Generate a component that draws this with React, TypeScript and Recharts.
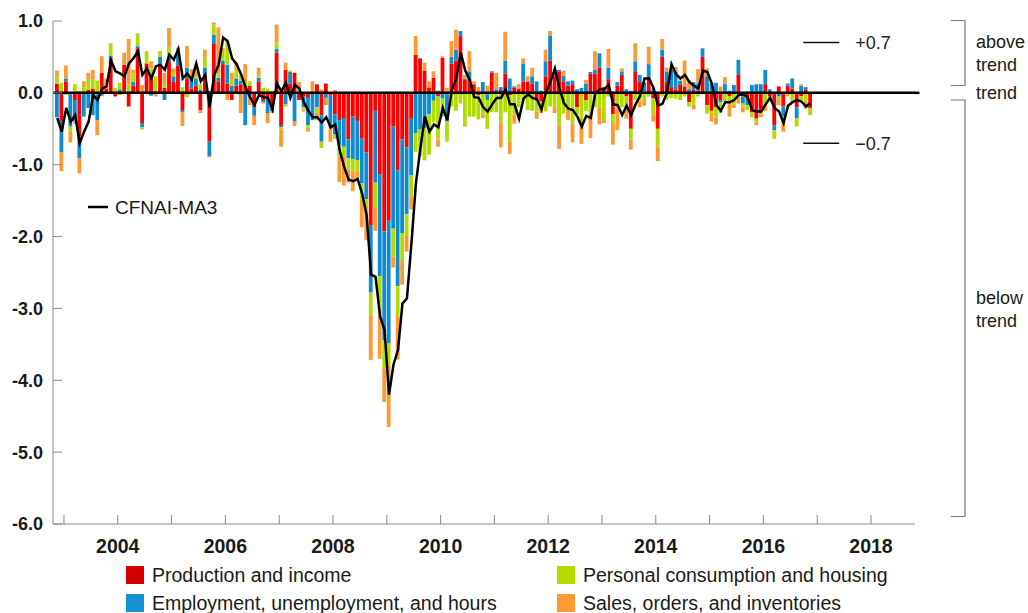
import React from 'react';
import { ComposedChart, Bar, Line, XAxis, YAxis, ReferenceLine } from 'recharts';

const FONT = '"Liberation Sans", Arial, Helvetica, sans-serif';

// one bar per month, Nov 2002 .. Nov 2016
const FIRST_YEAR = 2002;
const FIRST_MONTH = 11;

const production = [
  0.13, -0.39, 0.16, -0.02, -0.10, -0.61, 0.00, 0.04, 0.06, -0.02, 0.28, 0.06,
  0.48, -0.05, 0.00, 0.39, -0.19, 0.10, 0.62, -0.42, 0.41, 0.24, 0.00, 0.38,
  0.07, 0.44, 0.15, 0.38, -0.24, 0.20, 0.06, 0.10, -0.24, 0.25, -0.68, 0.68,
  0.16, 0.40, 0.13, -0.10, 0.10, 0.12, 0.10, 0.10, -0.20, 0.16, -0.10, -0.08,
  -0.22, 0.56, -0.46, 0.32, 0.13, 0.28, -0.10, -0.05, -0.07, 0.00, 0.12, -0.31,
  0.13, -0.04, -0.30, -0.38, -0.35, -0.65, -0.33, -0.39, -0.63, -0.83, -1.85, -0.25,
  -1.13, -1.93, -1.78, -0.47, -1.08, -0.65, -0.76, -0.35, 0.53, 0.48, 0.31, 0.07,
  0.21, -0.05, 0.49, -0.02, 0.41, 0.45, 0.79, 0.18, 0.20, 0.12, -0.03, 0.00,
  -0.02, 0.28, 0.00, 0.04, 0.27, -0.03, 0.07, 0.06, 0.16, 0.16, 0.13, -0.10,
  -0.12, 0.23, 0.45, 0.23, 0.30, 0.16, 0.10, 0.12, -0.20, 0.00, -0.10, 0.27,
  0.27, 0.35, 0.08, 0.19, -0.30, 0.10, 0.25, -0.05, -0.50, 0.30, 0.15, 0.02,
  0.20, -0.08, -0.50, 0.50, 0.15, 0.08, 0.05, 0.12, 0.09, -0.13, 0.05, 0.03,
  0.50, -0.17, -0.25, -0.20, -0.10, -0.02, -0.05, 0.01, 0.25, -0.05, -0.10, -0.27,
  -0.36, -0.25, 0.12, -0.05, -0.45, 0.09, -0.19, 0.10, 0.06, -0.20, -0.05, 0.05,
  -0.21,
];

const employment = [
  -0.34, -0.44, 0.04, -0.45, -0.30, -0.30, -0.33, -0.21, -0.31, -0.36, -0.04, 0.00,
  0.04, 0.00, 0.05, 0.00, 0.00, 0.05, 0.03, -0.06, 0.00, -0.04, 0.03, 0.12,
  -0.10, 0.05, 0.08, 0.15, -0.03, 0.15, 0.12, 0.10, 0.04, 0.10, -0.20, 0.13,
  0.05, 0.05, 0.26, 0.10, 0.10, 0.05, -0.45, -0.05, -0.12, 0.05, -0.03, -0.20,
  -0.04, 0.05, -0.02, -0.16, 0.16, -0.40, 0.02, -0.15, -0.38, -0.38, -0.20, -0.37,
  -0.07, -0.42, -0.28, -0.35, -0.40, -0.26, -0.59, -0.55, -0.63, -0.65, -0.93, -1.00,
  -1.42, -1.51, -1.71, -1.42, -1.61, -1.30, -0.93, -0.80, -0.56, -0.51, -0.49, -0.30,
  -0.11, 0.03, -0.08, -0.38, 0.09, 0.15, 0.07, 0.02, 0.10, 0.00, 0.00, 0.15,
  -0.08, 0.02, 0.05, 0.04, 0.18, 0.20, 0.02, 0.00, 0.25, 0.00, 0.10, 0.16,
  0.03, 0.21, 0.35, 0.05, 0.02, 0.08, 0.06, 0.05, 0.05, 0.07, 0.13, 0.02,
  0.05, 0.20, 0.00, 0.16, 0.02, 0.05, 0.05, 0.05, 0.03, 0.14, 0.10, 0.12,
  0.20, 0.06, 0.00, 0.10, 0.15, 0.24, 0.25, 0.05, 0.00, 0.05, 0.10, 0.10,
  0.12, 0.23, 0.14, 0.14, -0.03, 0.13, 0.03, 0.10, 0.21, -0.10, -0.07, 0.11,
  0.12, 0.12, 0.20, 0.05, -0.07, -0.05, -0.14, 0.03, 0.14, -0.15, 0.10, 0.03,
  0.00,
];

const consumption = [
  0.08, 0.14, -0.03, -0.07, 0.12, 0.03, 0.08, 0.14, 0.13, 0.17, 0.00, 0.00,
  0.15, 0.07, 0.09, 0.00, 0.12, 0.12, 0.18, -0.03, 0.17, 0.10, 0.20, 0.08,
  0.05, 0.15, 0.06, 0.08, 0.08, -0.06, 0.05, 0.03, 0.08, 0.15, 0.03, 0.14,
  0.05, 0.12, 0.35, 0.08, 0.12, 0.08, 0.05, 0.06, 0.00, 0.04, 0.07, 0.06,
  0.03, 0.09, -0.03, -0.03, 0.02, 0.00, 0.02, -0.03, -0.03, 0.00, -0.08, -0.09,
  0.00, 0.00, -0.06, -0.16, -0.14, -0.16, -0.18, -0.14, -0.23, -0.16, -0.31, -0.35,
  -0.45, -0.39, -0.30, -0.39, -0.42, -0.39, -0.30, -0.30, -0.26, -0.37, -0.45, -0.56,
  -0.29, -0.60, -0.25, -0.28, -0.19, -0.25, -0.15, -0.47, -0.33, -0.33, -0.34, -0.30,
  -0.40, -0.27, -0.27, -0.42, -0.27, -0.65, -0.30, -0.20, -0.11, -0.24, -0.25, -0.16,
  -0.08, -0.26, -0.19, -0.20, -0.45, -0.29, -0.24, -0.43, -0.08, -0.38, -0.15, -0.30,
  -0.20, -0.20, -0.38, -0.05, -0.12, -0.22, -0.20, -0.15, -0.15, -0.10, -0.12, -0.10,
  -0.05, -0.22, -0.25, -0.05, -0.10, -0.07, -0.08, -0.10, -0.05, -0.06, -0.16, -0.05,
  -0.02, -0.12, -0.03, -0.15, -0.15, -0.10, -0.08, -0.17, -0.07, -0.04, -0.07, -0.07,
  -0.06, -0.03, -0.16, -0.04, -0.12, -0.04, -0.01, -0.03, -0.11, -0.12, -0.05, -0.12,
  -0.10,
];

const sales = [
  0.10, -0.26, 0.18, -0.15, -0.03, -0.21, 0.08, 0.10, 0.13, -0.21, 0.23, 0.14,
  0.02, 0.00, -0.03, 0.17, 0.63, 0.05, 0.00, 0.11, 0.00, 0.10, -0.05, 0.00,
  0.16, 0.26, 0.05, 0.02, -0.19, 0.30, 0.10, 0.08, -0.04, 0.10, -0.02, 0.03,
  0.65, 0.05, -0.10, 0.10, 0.10, -0.28, 0.25, -0.12, -0.13, 0.10, -0.02, -0.14,
  -0.02, 0.25, -0.24, 0.10, 0.00, -0.06, 0.11, -0.03, -0.06, 0.16, -0.10, 0.05,
  -0.10, -0.22, 0.04, -0.35, -0.40, -0.18, -0.27, -0.11, -0.38, -0.41, -0.63, -0.32,
  -0.70, -0.47, -0.86, -0.15, -0.60, -0.33, -0.22, -0.17, 0.26, 0.00, 0.11, 0.09,
  0.09, -0.10, 0.02, 0.07, 0.22, 0.28, 0.00, 0.05, 0.28, 0.04, 0.08, -0.05,
  0.10, 0.00, 0.23, -0.34, 0.40, -0.17, -0.13, 0.06, 0.07, 0.07, 0.12, -0.10,
  -0.08, 0.16, 0.06, -0.08, -0.33, 0.07, -0.14, -0.26, -0.02, -0.33, 0.05, -0.33,
  0.26, -0.24, -0.04, 0.26, -0.30, -0.30, 0.04, -0.16, -0.14, 0.25, -0.08, -0.08,
  0.24, -0.10, -0.20, 0.15, 0.05, 0.00, 0.06, 0.00, 0.36, 0.12, -0.07, 0.20,
  0.00, 0.11, -0.12, -0.09, 0.09, 0.09, -0.20, -0.04, -0.08, -0.08, 0.02, 0.00,
  -0.03, -0.06, -0.09, -0.02, 0.00, -0.08, -0.20, -0.02, -0.02, 0.02, 0.02, -0.10,
  0.01,
];

const cfnaiMa3 = [
  -0.35, -0.54, -0.21, -0.40, -0.31, -0.70, -0.54, -0.40, -0.03, -0.10, 0.06, 0.09,
  0.45, 0.30, 0.27, 0.23, 0.41, 0.48, 0.58, 0.25, 0.34, 0.20, 0.37, 0.39,
  0.32, 0.53, 0.46, 0.61, 0.20, 0.27, 0.18, 0.41, 0.16, 0.25, -0.20, 0.25,
  0.39, 0.77, 0.72, 0.48, 0.40, 0.26, 0.08, -0.06, -0.17, -0.03, -0.06, -0.07,
  -0.23, 0.13, 0.02, 0.14, -0.07, 0.11, 0.06, -0.13, -0.25, -0.34, -0.34, -0.41,
  -0.34, -0.48, -0.44, -0.80, -1.03, -1.21, -1.23, -1.20, -1.40, -1.70, -2.53, -2.56,
  -3.11, -3.30, -4.20, -3.78, -3.58, -2.93, -2.86, -2.09, -1.26, -0.77, -0.33, -0.54,
  -0.44, -0.48, -0.21, -0.38, 0.04, 0.20, 0.56, 0.31, 0.18, -0.06, -0.07, -0.20,
  -0.26, -0.16, -0.07, -0.07, 0.05, -0.16, -0.16, -0.36, -0.08, -0.02, -0.07, -0.09,
  -0.23, 0.01, 0.15, 0.34, 0.07, -0.14, -0.22, -0.24, -0.33, -0.47, -0.32, -0.35,
  -0.01, 0.05, 0.05, 0.11, -0.16, -0.17, -0.31, -0.18, -0.31, -0.16, -0.04, 0.20,
  0.20, 0.07, -0.18, -0.15, 0.00, 0.40, 0.26, 0.20, 0.25, 0.15, 0.10, 0.06,
  0.31, 0.29, 0.13, -0.17, -0.25, -0.13, -0.13, -0.10, -0.03, -0.02, -0.06, -0.24,
  -0.26, -0.26, -0.16, -0.07, -0.21, -0.26, -0.42, -0.18, -0.13, -0.10, -0.12, -0.19,
  -0.14,
];

const yearTicks = [2003, 2004, 2005, 2006, 2007, 2008, 2009, 2010, 2011, 2012, 2013, 2014, 2015, 2016, 2017, 2018];
const valueTicks = [-6, -5, -4, -3, -2, -1, 0, 1];
const xDomain = [2002.796, 2018.818];
const markerX = [2016.74, 2017.41];

const COLORS = {
  prod: '#ff0000',
  emp: '#0f8ccf',
  cons: '#b0dc00',
  sales: '#ff9a33',
};

const legendItems = [
  { label: 'Production and income', color: '#d40000', x: 118, y: 558 },
  { label: 'Employment, unemployment, and hours', color: '#1590d2', x: 118, y: 586 },
  { label: 'Personal consumption and housing', color: '#b4dc00', x: 549, y: 558 },
  { label: 'Sales, orders, and inventories', color: '#ff9a33', x: 549, y: 586 },
];

const data = production.map((p, i) => ({
  t: FIRST_YEAR + (FIRST_MONTH - 0.5) / 12 + i / 12,
  prod: p,
  emp: employment[i],
  cons: consumption[i],
  sales: sales[i],
  ma3: cfnaiMa3[i],
}));

const AXIS_GRAY = '#8a8a8a';
const X_TICK_MARGIN = 15;
const Y_TICK_MARGIN = 10;

const XTick = (props: any) => {
  const { x, y, payload } = props;
  const yr = payload.value as number;
  const axisY = y - X_TICK_MARGIN;
  return (
    <g>
      <line x1={x} x2={x} y1={axisY} y2={axisY - 9} stroke={AXIS_GRAY} strokeWidth={1} />
      {yr % 2 === 0 && (
        <text x={x} y={y} dy="0.71em" textAnchor="middle" fontFamily={FONT} fontSize={19.5} fontWeight="bold" fill="#1a1a1a">
          {yr}
        </text>
      )}
    </g>
  );
};

const YTick = (props: any) => {
  const { x, y, payload } = props;
  const v = payload.value as number;
  const axisX = x + Y_TICK_MARGIN;
  return (
    <g>
      <line x1={axisX} x2={axisX + 9} y1={y} y2={y} stroke={AXIS_GRAY} strokeWidth={1} />
      <text x={x} y={y} dy="0.355em" textAnchor="end" fontFamily={FONT} fontSize={18} fontWeight="bold" fill="#1a1a1a">
        {v.toFixed(1)}
      </text>
    </g>
  );
};

export default function App() {
  return (
    <div style={{ position: 'relative', width: 1028, height: 613, overflow: 'hidden', fontFamily: FONT, background: '#fff' }}>
      {/* drop the default body margin so the right-hand labels get the full page width */}
      <style>{'html, body { margin: 0; padding: 0; overflow: hidden; }'}</style>
      <div style={{ position: 'absolute', left: 8, top: 8 }}>
        <ComposedChart
          width={1012}
          height={600}
          data={data}
          stackOffset="sign"
          barSize={3.8}
          margin={{ top: 13, right: 105, bottom: 54, left: 0 }}
        >
          <XAxis
            dataKey="t"
            type="number"
            domain={xDomain}
            ticks={yearTicks}
            interval={0}
            height={30}
            tick={<XTick />}
            tickLine={false}
            tickSize={0}
            tickMargin={X_TICK_MARGIN}
            axisLine={{ stroke: AXIS_GRAY }}
            allowDataOverflow
          />
          <YAxis
            type="number"
            domain={[-6, 1]}
            ticks={valueTicks}
            interval={0}
            width={45}
            tick={<YTick />}
            tickLine={false}
            tickSize={0}
            tickMargin={Y_TICK_MARGIN}
            axisLine={{ stroke: AXIS_GRAY }}
            allowDataOverflow
          />
          <Bar dataKey="prod" stackId="s" fill={COLORS.prod} barSize={3.8} isAnimationActive={false} />
          <Bar dataKey="emp" stackId="s" fill={COLORS.emp} barSize={3.8} isAnimationActive={false} />
          <Bar dataKey="cons" stackId="s" fill={COLORS.cons} barSize={3.8} isAnimationActive={false} />
          <Bar dataKey="sales" stackId="s" fill={COLORS.sales} barSize={3.8} isAnimationActive={false} />
          <ReferenceLine y={0} stroke="#000" strokeWidth={2.5} />
          <ReferenceLine
            segment={[{ x: markerX[0], y: 0.7 }, { x: markerX[1], y: 0.7 }]}
            stroke="#111"
            strokeWidth={1.5}
            label={{ value: '+0.7', position: 'right', offset: 16, fill: '#222', fontSize: 18, fontFamily: FONT }}
          />
          <ReferenceLine
            segment={[{ x: markerX[0], y: -0.7 }, { x: markerX[1], y: -0.7 }]}
            stroke="#111"
            strokeWidth={1.5}
            label={{ value: '\u22120.7', position: 'right', offset: 16, fill: '#222', fontSize: 18, fontFamily: FONT }}
          />
          <Line
            dataKey="ma3"
            type="linear"
            stroke="#000"
            strokeWidth={2.5}
            dot={false}
            activeDot={false}
            isAnimationActive={false}
          />
        </ComposedChart>
      </div>

      <svg
        width={1020}
        height={605}
        style={{ position: 'absolute', left: 8, top: 8, pointerEvents: 'none', overflow: 'visible' }}
        fontFamily={FONT}
      >
        {/* zero line runs a few pixels past the axis end */}
        <line x1={906} x2={911.5} y1={84.86} y2={84.86} stroke="#000" strokeWidth={2.5} />

        {/* series label for the 3-month average */}
        <line x1={80} x2={100} y1={199} y2={199} stroke="#000" strokeWidth={2.5} />
        <text x={107} y={199} dy="0.355em" fontSize={19} fill="#1a1a1a">CFNAI-MA3</text>

        {/* trend brackets */}
        <path d="M943 12.5 H957 V77.5 H943" fill="none" stroke="#777" strokeWidth={1.2} />
        <path d="M943 92 H957 V508.5 H943" fill="none" stroke="#777" strokeWidth={1.2} />
        <text x={968} y={34} dy="0.355em" fontSize={18} fill="#1a1a1a">above</text>
        <text x={968} y={56.5} dy="0.355em" fontSize={18} fill="#1a1a1a">trend</text>
        <text x={968} y={84.5} dy="0.355em" fontSize={18} fill="#1a1a1a">trend</text>
        <text x={968} y={289.5} dy="0.355em" fontSize={18} fill="#1a1a1a">below</text>
        <text x={968} y={312.5} dy="0.355em" fontSize={18} fill="#1a1a1a">trend</text>

        {legendItems.map((it) => (
          <g key={it.label}>
            <rect x={it.x} y={it.y} width={18} height={18} fill={it.color} />
            <text x={it.x + 26} y={it.y + 9} dy="0.355em" fontSize={19.5} fill="#1a1a1a">
              {it.label}
            </text>
          </g>
        ))}
      </svg>
    </div>
  );
}
